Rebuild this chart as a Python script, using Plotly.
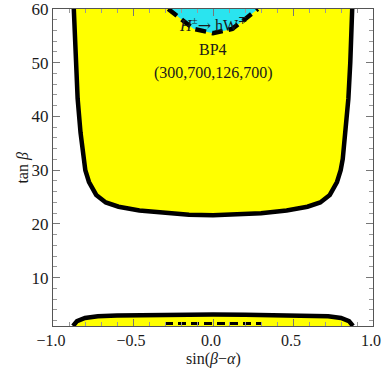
import plotly.graph_objects as go

# boundary of the upper allowed region (left half, mirrored for right)
upper_sin = [-0.870, -0.858, -0.846, -0.828, -0.811, -0.798, -0.775, -0.730, -0.670, -0.590, -0.460, -0.300, -0.150, 0.0]
upper_tan = [60.0, 50.0, 43.3, 37.0, 32.1, 30.0, 27.8, 25.4, 24.0, 23.2, 22.5, 22.0, 21.7, 21.6]

# boundary of the lower allowed region
lower_sin = [-0.875, -0.850, -0.800, -0.720, -0.600, -0.400, -0.200, 0.0]
lower_tan = [1.0, 1.9, 2.5, 2.8, 2.95, 3.05, 3.1, 3.12]

# H -> hW region at large tan(beta)
hw_sin = [-0.280, -0.200, -0.120, 0.0]
hw_tan = [60.0, 58.1, 56.3, 55.5]

# H -> hW contour at small tan(beta)
hw_low_sin = [-0.30, 0.30]
hw_low_tan = [1.45, 1.45]


def mirror(xs, ys):
    x = xs + [-v for v in reversed(xs[:-1])]
    y = ys + list(reversed(ys[:-1]))
    return x, y


ux, uy = mirror(upper_sin, upper_tan)
lx, ly = mirror(lower_sin, lower_tan)
hx, hy = mirror(hw_sin, hw_tan)

YELLOW = "#FFFF00"
CYAN = "#2ae4ef"
FONT = "Liberation Serif"
TXT = "#1a1a1a"

fig = go.Figure()

# fills
fig.add_trace(go.Scatter(x=ux, y=uy, fill="toself", fillcolor=YELLOW,
                         mode="lines", line=dict(width=0), hoverinfo="skip"))
fig.add_trace(go.Scatter(x=lx, y=ly, fill="toself", fillcolor=YELLOW,
                         mode="lines", line=dict(width=0), hoverinfo="skip"))
fig.add_trace(go.Scatter(x=hx, y=hy, fill="toself", fillcolor=CYAN,
                         mode="lines", line=dict(width=0), hoverinfo="skip"))

# contour lines
fig.add_trace(go.Scatter(x=ux, y=uy, mode="lines",
                         line=dict(color="black", width=4.5)))
fig.add_trace(go.Scatter(x=lx, y=ly, mode="lines",
                         line=dict(color="black", width=4.5)))
fig.add_trace(go.Scatter(x=hx, y=hy, mode="lines",
                         line=dict(color="black", width=4.5, dash="11px,6px")))
fig.add_trace(go.Scatter(x=hw_low_sin, y=hw_low_tan, mode="lines",
                         line=dict(color="black", width=3, dash="8px,5px")))

axis_common = dict(
    showgrid=False, zeroline=False, showline=True, linecolor="#555555",
    linewidth=1, mirror="allticks", ticks="inside", tickcolor="#777777",
    ticklen=7, automargin=False, ticklabeloverflow="allow",
)

fig.update_xaxes(range=[-1, 1], tickvals=[-1, -0.5, 0, 0.5, 1],
                 ticktext=["\u22121.0", "\u22120.5", "0.0", "0.5", "1.0"],
                 tickfont=dict(family=FONT, size=16, color=TXT), ticklabelshift=-2,
                 minor=dict(dtick=0.1, ticklen=4, tickcolor="#999999", ticks="inside"),
                 **axis_common)
fig.update_yaxes(range=[1, 60], tickvals=[10, 20, 30, 40, 50, 60],
                 tickfont=dict(family=FONT, size=17, color=TXT),
                 minor=dict(dtick=2, tick0=0, ticklen=4, tickcolor="#999999", ticks="inside"),
                 **axis_common)

fig.update_layout(
    width=382, height=382,
    margin=dict(l=53, r=9, t=9, b=56),
    plot_bgcolor="white", paper_bgcolor="white",
    showlegend=False,
    font=dict(family=FONT, color=TXT),
    annotations=[
        dict(x=0.0, y=57.2, xref="x", yref="y", showarrow=False,
             text="<i>H</i><sup>\u00b1</sup><span style='font-family:DejaVu Serif'>\u2192</span> hW<sup>\u2213</sup>",
             font=dict(family=FONT, size=16, color=TXT)),
        dict(x=0.0, y=52.4, xref="x", yref="y", showarrow=False,
             text="BP4", font=dict(family=FONT, size=16, color=TXT)),
        dict(x=0.0, y=48.0, xref="x", yref="y", showarrow=False,
             text="(300,700,126,700)", font=dict(family=FONT, size=16, color=TXT)),
        dict(x=0.5, y=-0.139, xref="paper", yref="paper", showarrow=False,
             text="sin(<i>\u03b2</i>\u2212<i>\u03b1</i>)",
             font=dict(family=FONT, size=16, color=TXT)),
        dict(x=-0.131, y=0.5, xref="paper", yref="paper", showarrow=False,
             text="tan <i>\u03b2</i>", textangle=-90,
             font=dict(family=FONT, size=16, color=TXT)),
    ],
)

# drop the default page margin so the figure sits at the window origin
fig.write_html("out.html", config={"displayModeBar": False},
               post_script="document.body.style.margin='0';")
